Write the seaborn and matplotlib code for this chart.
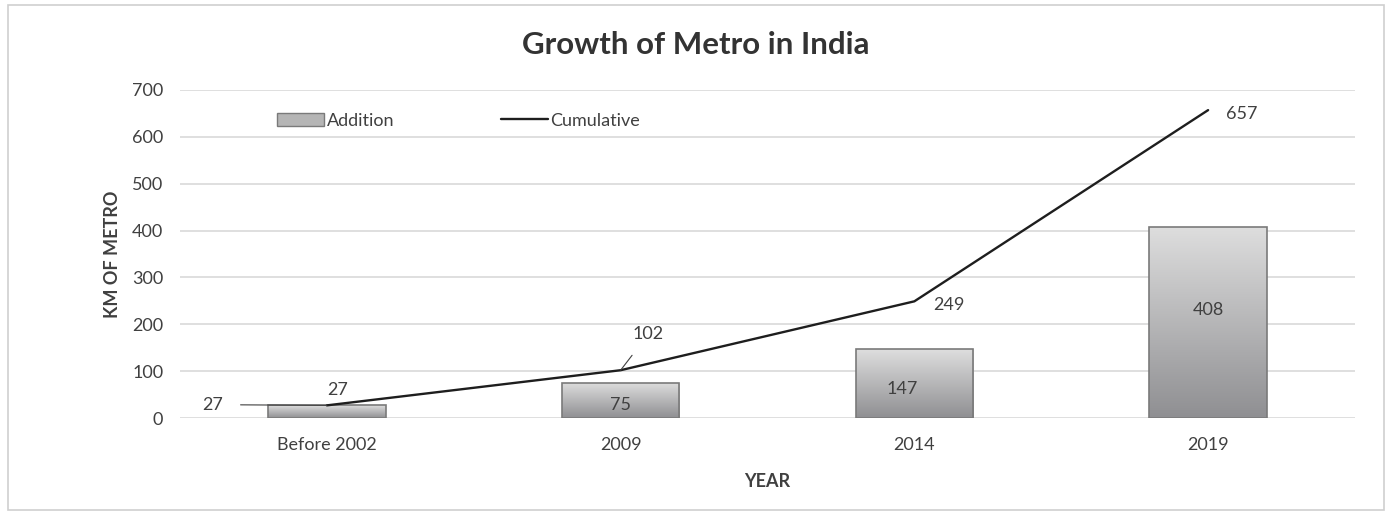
import numpy as np
import pandas as pd
import seaborn as sns
import matplotlib.pyplot as plt
from matplotlib.patches import Patch, Rectangle
from matplotlib.lines import Line2D

years = ["Before 2002", "2009", "2014", "2019"]
addition = [27, 75, 147, 408]
cumulative = [27, 102, 249, 657]

df = pd.DataFrame({"year": years, "addition": addition, "cumulative": cumulative})

sns.set_style("white")
plt.rcParams['font.family'] = ['Lato', 'DejaVu Sans']
txt = "#404040"
fs = 13

fig = plt.figure(figsize=(13.92, 5.15), dpi=100)
ax = fig.add_axes([0.1293, 0.1883, 0.8441, 0.637])

sns.barplot(data=df, x="year", y="addition", ax=ax, width=0.4,
            color="#b0b0b0", edgecolor="#7a7a7a", linewidth=1.2, zorder=2)

# vertical grey gradient inside each bar
grad = np.linspace(0, 1, 256).reshape(-1, 1)
for p in list(ax.patches):
    x0, y0 = p.get_x(), p.get_y()
    w, h = p.get_width(), p.get_height()
    im = ax.imshow(grad, cmap=sns.blend_palette(["#8f8f92", "#dedede"], as_cmap=True),
                   extent=[x0, x0 + w, y0, y0 + h], origin="lower",
                   aspect="auto", zorder=2.1)
    im.set_clip_path(p)
    p.set_facecolor("none")
    p.set_zorder(2.2)

sns.lineplot(data=df, x="year", y="cumulative", ax=ax, sort=False,
             color="#1e1e1e", linewidth=1.7, zorder=3)

ax.set_xlim(-0.5, 3.5)
ax.set_ylim(0, 700)
ax.set_yticks(range(0, 701, 100))
ax.yaxis.grid(True, color="#d9d9d9", linewidth=1.2, zorder=0)
ax.set_axisbelow(True)
for s in ax.spines.values():
    s.set_visible(False)
ax.tick_params(axis="both", length=0, labelsize=fs, colors=txt)
ax.tick_params(axis="x", pad=14)
ax.tick_params(axis="y", pad=12)

ax.set_xlabel("YEAR", fontsize=fs, fontweight="bold", color=txt, labelpad=14)
ax.set_ylabel("KM OF METRO", fontsize=fs, fontweight="bold", color=txt, labelpad=8)
fig.suptitle("Growth of Metro in India", fontsize=22.5, fontweight="bold",
             color="#333333", y=0.94)

lk = dict(textcoords="offset points", ha="center", va="center",
          fontsize=fs, color=txt)

# bar value labels
ax.annotate(str(addition[0]), (0, addition[0]), xytext=(8, 11), **lk)
bar_off = [None, (0, -3), (-9, -4), (0, 9)]
for i in range(1, 4):
    ax.annotate(str(addition[i]), (i, addition[i] / 2), xytext=bar_off[i], **lk)

# cumulative labels
ax.annotate(str(cumulative[0]), (0, cumulative[0]), xytext=(-82, 0.5),
            arrowprops=dict(arrowstyle="-", color="#404040", lw=0.8,
                            shrinkA=10, shrinkB=0), **lk)
ax.annotate(str(cumulative[1]), (1, cumulative[1]), xytext=(20, 26),
            arrowprops=dict(arrowstyle="-", color="#404040", lw=0.8,
                            shrinkA=9, shrinkB=0), **lk)
ax.annotate(str(cumulative[2]), (2, cumulative[2]), xytext=(25, -2.5), **lk)
ax.annotate(str(cumulative[3]), (3, cumulative[3]), xytext=(24, -2.5), **lk)

handles = [Patch(facecolor="#b5b5b5", edgecolor="#7a7a7a", label="Addition"),
           Line2D([0], [0], color="#1e1e1e", lw=1.7, label="Cumulative")]
ax.legend(handles=handles, ncol=2, frameon=False, loc="center",
          bbox_to_anchor=(0.237, 0.906), fontsize=fs, labelcolor=txt,
          handlelength=2.6, handleheight=0.7, handletextpad=0.15, columnspacing=5.9)

fig.patches.append(Rectangle((0.006, 0.01), 0.988, 0.98, transform=fig.transFigure,
                             fill=False, edgecolor="#cfcfcf", linewidth=1.2))

fig.savefig("out.png", dpi=100, facecolor="white")
